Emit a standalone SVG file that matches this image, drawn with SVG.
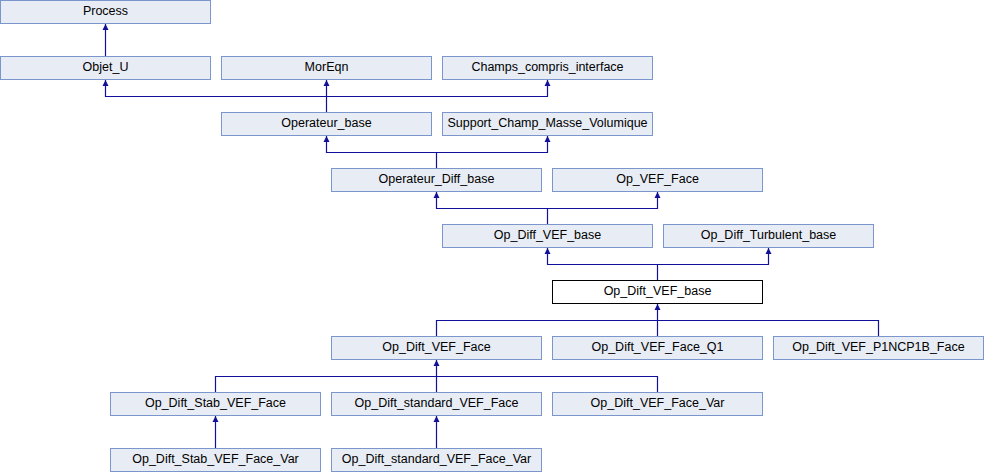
<svg xmlns="http://www.w3.org/2000/svg" width="984" height="472" viewBox="0 0 984 472">
<style>
.n rect{fill:#e8ecf4;stroke:#7b96cc;stroke-width:1}
.n.cur rect{fill:#ffffff;stroke:#000000}
.n text{font-family:"Liberation Sans",Arial,sans-serif;font-size:12.5px;fill:#000;text-anchor:middle}
#edges path{fill:none;stroke:#10109a;stroke-width:1.2}
#edges polygon{fill:#10109a;stroke:none}
</style>
<rect width="984" height="472" fill="#ffffff"/>
<g id="edges">
<path d="M105.5 56.5V23.5"/>
<path d="M326.5 112.5V79.5M105.5 79.5V96.5H547.5V79.5"/>
<path d="M436.5 168.5V152.5M326.5 135.5V152.5H547.5V135.5"/>
<path d="M547.5 224.5V208.5M436.5 191.5V208.5H657.5V191.5"/>
<path d="M657.5 280.5V264.5M547.5 247.5V264.5H768.5V247.5"/>
<path d="M657.5 303.5V336.5M436.5 336.5V320.5H878.5V336.5"/>
<path d="M436.5 359.5V392.5M215.5 392.5V376.5H657.5V392.5"/>
<path d="M215.5 415.5V448.5"/>
<path d="M436.5 415.5V448.5"/>
<polygon points="105.5,24 102.5,30 108.5,30"/>
<polygon points="105.5,80 102.5,86 108.5,86"/>
<polygon points="326.5,80 323.5,86 329.5,86"/>
<polygon points="547.5,80 544.5,86 550.5,86"/>
<polygon points="326.5,136 323.5,142 329.5,142"/>
<polygon points="547.5,136 544.5,142 550.5,142"/>
<polygon points="436.5,192 433.5,198 439.5,198"/>
<polygon points="657.5,192 654.5,198 660.5,198"/>
<polygon points="547.5,248 544.5,254 550.5,254"/>
<polygon points="768.5,248 765.5,254 771.5,254"/>
<polygon points="657.5,304 654.5,310 660.5,310"/>
<polygon points="436.5,360 433.5,366 439.5,366"/>
<polygon points="215.5,416 212.5,422 218.5,422"/>
<polygon points="436.5,416 433.5,422 439.5,422"/>
</g>
<g id="Process" class="n"><rect x="0.5" y="0.5" width="210" height="23"/><text x="105.5" y="15.2">Process</text></g>
<g id="Objet_U" class="n"><rect x="0.5" y="56.5" width="210" height="23"/><text x="105.5" y="71.2">Objet_U</text></g>
<g id="MorEqn" class="n"><rect x="221.5" y="56.5" width="210" height="23"/><text x="326.5" y="71.2">MorEqn</text></g>
<g id="Champs_compris_interface" class="n"><rect x="442.5" y="56.5" width="210" height="23"/><text x="547.5" y="71.2">Champs_compris_interface</text></g>
<g id="Operateur_base" class="n"><rect x="221.5" y="112.5" width="210" height="23"/><text x="326.5" y="127.2">Operateur_base</text></g>
<g id="Support_Champ_Masse_Volumique" class="n"><rect x="442.5" y="112.5" width="210" height="23"/><text x="547.5" y="127.2">Support_Champ_Masse_Volumique</text></g>
<g id="Operateur_Diff_base" class="n"><rect x="331.5" y="168.5" width="210" height="23"/><text x="436.5" y="183.2">Operateur_Diff_base</text></g>
<g id="Op_VEF_Face" class="n"><rect x="552.5" y="168.5" width="210" height="23"/><text x="657.5" y="183.2">Op_VEF_Face</text></g>
<g id="Op_Diff_VEF_base" class="n"><rect x="442.5" y="224.5" width="210" height="23"/><text x="547.5" y="239.2">Op_Diff_VEF_base</text></g>
<g id="Op_Diff_Turbulent_base" class="n"><rect x="663.5" y="224.5" width="210" height="23"/><text x="768.5" y="239.2">Op_Diff_Turbulent_base</text></g>
<g id="Op_Dift_VEF_base" class="n cur"><rect x="552.5" y="280.5" width="210" height="23"/><text x="657.5" y="295.2">Op_Dift_VEF_base</text></g>
<g id="Op_Dift_VEF_Face" class="n"><rect x="331.5" y="336.5" width="210" height="23"/><text x="436.5" y="351.2">Op_Dift_VEF_Face</text></g>
<g id="Op_Dift_VEF_Face_Q1" class="n"><rect x="552.5" y="336.5" width="210" height="23"/><text x="657.5" y="351.2">Op_Dift_VEF_Face_Q1</text></g>
<g id="Op_Dift_VEF_P1NCP1B_Face" class="n"><rect x="773.5" y="336.5" width="210" height="23"/><text x="878.5" y="351.2">Op_Dift_VEF_P1NCP1B_Face</text></g>
<g id="Op_Dift_Stab_VEF_Face" class="n"><rect x="110.5" y="392.5" width="210" height="23"/><text x="215.5" y="407.2">Op_Dift_Stab_VEF_Face</text></g>
<g id="Op_Dift_standard_VEF_Face" class="n"><rect x="331.5" y="392.5" width="210" height="23"/><text x="436.5" y="407.2">Op_Dift_standard_VEF_Face</text></g>
<g id="Op_Dift_VEF_Face_Var" class="n"><rect x="552.5" y="392.5" width="210" height="23"/><text x="657.5" y="407.2">Op_Dift_VEF_Face_Var</text></g>
<g id="Op_Dift_Stab_VEF_Face_Var" class="n"><rect x="110.5" y="448.5" width="210" height="23"/><text x="215.5" y="463.2">Op_Dift_Stab_VEF_Face_Var</text></g>
<g id="Op_Dift_standard_VEF_Face_Var" class="n"><rect x="331.5" y="448.5" width="210" height="23"/><text x="436.5" y="463.2">Op_Dift_standard_VEF_Face_Var</text></g>
</svg>
